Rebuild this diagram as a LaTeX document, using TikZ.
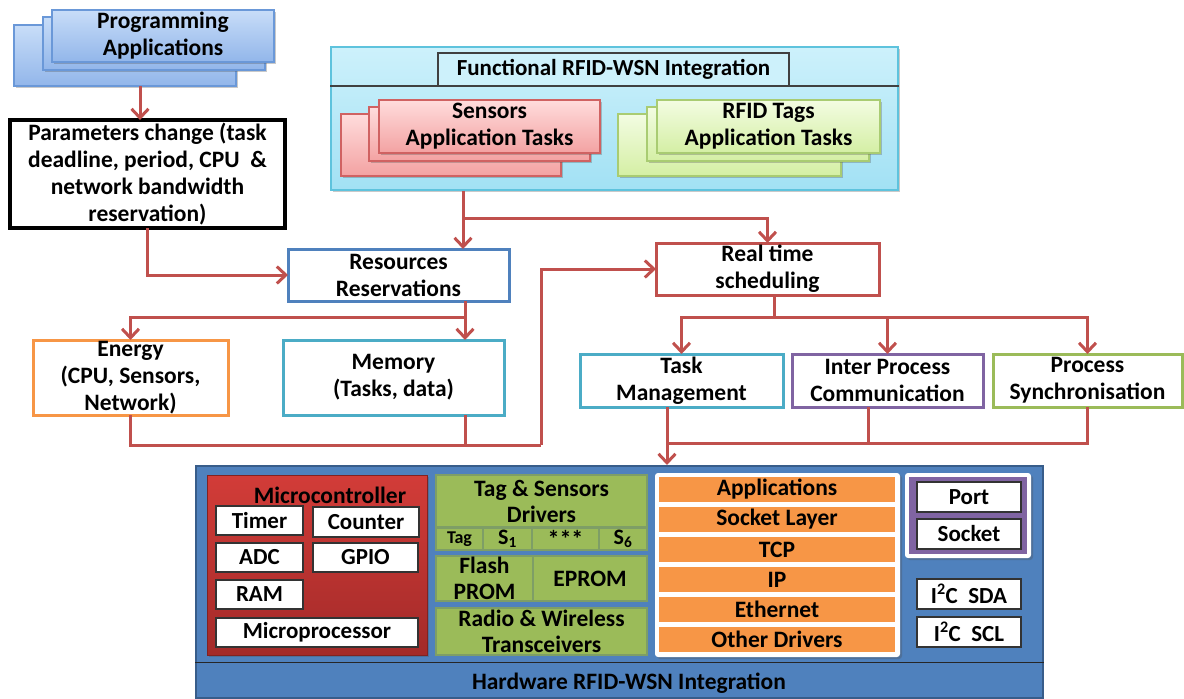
\documentclass[tikz,border=0pt]{standalone}
\usepackage{fontspec}
\setmainfont{Carlito}
\usetikzlibrary{arrows.meta,shadows}

\definecolor{linkred}{HTML}{C0504D}
\definecolor{accblue}{HTML}{4F81BD}
\definecolor{accdblue}{HTML}{385D8A}
\definecolor{accorange}{HTML}{F79646}
\definecolor{accteal}{HTML}{4BACC6}
\definecolor{accpurple}{HTML}{8064A2}
\definecolor{accgreen}{HTML}{9BBB59}
\definecolor{greenedge}{HTML}{7E9E66}
\definecolor{progtop}{HTML}{C8DDF8}
\definecolor{progbot}{HTML}{92B6EA}
\definecolor{progedge}{HTML}{6A98D8}
\definecolor{functop}{HTML}{CDF1FB}
\definecolor{funcbot}{HTML}{A2E1F4}
\definecolor{funcedge}{HTML}{5EC3DD}
\definecolor{sentop}{HTML}{FFDCDC}
\definecolor{senbot}{HTML}{F3A2A2}
\definecolor{senedge}{HTML}{D06262}
\definecolor{rfidtop}{HTML}{F3FCE2}
\definecolor{rfidbot}{HTML}{D4EFA4}
\definecolor{rfidedge}{HTML}{A9CC72}
\definecolor{mcutop}{HTML}{D23C38}
\definecolor{mcubot}{HTML}{A32A29}

\tikzset{
  lbl/.style={font=\bfseries\fontsize{23.5}{27}\selectfont, align=center, inner sep=0pt, outer sep=0pt},
  fsz/.style={font=\bfseries\fontsize{#1}{26}\selectfont},
  frame/.style={lbl, rectangle, draw, line width=3pt, fill=white},
  soft/.style={drop shadow={shadow xshift=2pt, shadow yshift=-2pt, opacity=0.3, fill=black!70}},
  progbox/.style={lbl, rectangle, draw=progedge, line width=1.2pt, top color=progtop, bottom color=progbot, soft},
  senbox/.style={lbl, rectangle, draw=senedge, line width=1.2pt, top color=sentop, bottom color=senbot, soft},
  rfidbox/.style={lbl, rectangle, draw=rfidedge, line width=1.2pt, top color=rfidtop, bottom color=rfidbot, soft},
  cell/.style={lbl, rectangle, draw=black!80, line width=1.3pt, fill=white, fsz=23},
  gcell/.style={lbl, rectangle, draw=greenedge, line width=1.5pt, fill=accgreen, fsz=23.5},
  obar/.style={lbl, rectangle, fill=accorange, minimum width=236, minimum height=25, fsz=23.5},
  conn/.style={draw=linkred, line width=3pt},
  arr/.style={conn, -{Straight Barb[length=9pt, width=17pt]}},
}

\begin{document}
\begin{tikzpicture}[x=1pt, y=-1pt]
\useasboundingbox (0,0) rectangle (1184,699);

% ---------- programming applications (stacked sheets)
\node[progbox, minimum width=222, minimum height=61] (progback) at (125,55.5) {};
\node[progbox, minimum width=222, minimum height=53] (progmid) at (154,43.5) {};
\node[progbox, minimum width=222, minimum height=52] (progfront) at (163,36) {Programming\\Applications};

% ---------- parameters change
\node[frame, draw=black, line width=3.5pt, minimum width=275, minimum height=108] (params) at (147.5,174)
  {Parameters change (task\\deadline, period, CPU~~\&\\network bandwidth\\reservation)};

% ---------- functional integration block
\node[rectangle, draw=funcedge, line width=1.5pt, top color=functop, bottom color=funcbot,
      minimum width=567, minimum height=143, soft] (func) at (614.5,118.5) {};
\node[lbl, fsz=23, draw=black!75, line width=1.3pt, fill=functop, minimum width=351, minimum height=33]
  (functitle) at (613.5,69.5) {Functional RFID-WSN Integration};
\draw[draw=black!75, line width=1.3pt] (functitle.south -| func.west) -- (functitle.south -| func.east);

\node[senbox, minimum width=220, minimum height=62] (senback) at (451,145) {};
\node[senbox, minimum width=221, minimum height=54] (senmid) at (479.5,134) {};
\node[senbox, minimum width=221, minimum height=53] (senfront) at (489.5,126.5) {Sensors\\Application Tasks};

\node[rfidbox, minimum width=223, minimum height=62] (rfidback) at (729.5,145) {};
\node[rfidbox, minimum width=222, minimum height=54] (rfidmid) at (758,134) {};
\node[rfidbox, minimum width=223, minimum height=53] (rfidfront) at (768.5,126.5) {RFID Tags\\Application Tasks};

% ---------- resource and scheduling boxes
\node[frame, draw=accblue, minimum width=221, minimum height=52] (res) at (398.5,275) {Resources\\Reservations};
\node[frame, draw=linkred, minimum width=223, minimum height=52] (rts) at (767.5,269) {Real time\\scheduling};
\node[frame, draw=accorange, minimum width=195, minimum height=75] (energy) at (130.5,377.5) {Energy\\(CPU, Sensors,\\Network)};
\node[frame, draw=accteal, minimum width=221, minimum height=75] (mem) at (393.5,377.5) {Memory\\(Tasks, data)};
\node[frame, draw=accteal, minimum width=203, minimum height=53] (task) at (681.5,380.5) {Task\\Management};
\node[frame, draw=accpurple, minimum width=191, minimum height=53] (ipc) at (887.5,380.5) {Inter Process\\Communication};
\node[frame, draw=accgreen, minimum width=189, minimum height=53] (sync) at (1087.5,380.5) {Process\\Synchronisation};

% ---------- hardware block
\node[rectangle, draw=accdblue, line width=2pt, fill=accblue, minimum width=847, minimum height=232] (hw) at (619.5,582) {};
\draw[black!85, line width=1pt] (hw.west |- 0,662) -- (hw.east |- 0,662);
\node[lbl] (hwtitle) at (629,683) {Hardware RFID-WSN Integration};

% microcontroller
\node[rectangle, draw=mcubot!80!black, line width=1pt, top color=mcutop, bottom color=mcubot,
      minimum width=220, minimum height=180, soft] (mcu) at (317,565) {};
\node[lbl] (mcutitle) at (330,495) {Microcontroller};
\node[cell, minimum width=87,  minimum height=29] (timer)   at (259.5,520.5) {Timer};
\node[cell, minimum width=106, minimum height=30] (counter) at (366,522)     {Counter};
\node[cell, minimum width=87,  minimum height=29] (adc)     at (259.5,557.5) {ADC};
\node[cell, minimum width=105, minimum height=29] (gpio)    at (365.5,557.5) {GPIO};
\node[cell, minimum width=87,  minimum height=29] (ram)     at (259.5,594.5) {RAM};
\node[cell, minimum width=202, minimum height=29] (mproc)   at (317,632.5)   {Microprocessor};

% drivers and memories
\node[gcell, minimum width=211, minimum height=52] (tsd) at (541.5,501) {Tag \& Sensors\\Drivers};
\node[gcell, fsz=18, minimum width=47, minimum height=22] (tagc)  at (459.5,539) {Tag};
\node[gcell, fsz=22, minimum width=49, minimum height=22] (s1c)   at (507.5,539) {S\textsubscript{1}};
\node[gcell, fsz=24, minimum width=67, minimum height=22] (stars) at (565.5,539) {***};
\node[gcell, fsz=22, minimum width=48, minimum height=22] (s6c)   at (623,539)   {S\textsubscript{6}};
\node[gcell, minimum width=97,  minimum height=45] (flash) at (484.5,578.5) {Flash\\PROM};
\node[gcell, minimum width=114, minimum height=45] (eprom) at (590,578.5)   {EPROM};
\node[gcell, minimum width=211, minimum height=47] (radio) at (541.5,631.5) {Radio \& Wireless\\Transceivers};

% network stack
\node[rectangle, rounded corners=3pt, fill=white, minimum width=245, minimum height=184, soft] (netbg) at (777.5,565) {};
\node[obar] (apps)  at (777,489.5) {Applications};
\node[obar] (sockl) at (777,519.5) {Socket Layer};
\node[obar] (tcp)   at (777,549.5) {TCP};
\node[obar] (ip)    at (777,579.5) {IP};
\node[obar] (eth)   at (777,609.5) {Ethernet};
\node[obar] (other) at (777,639.5) {Other Drivers};

% ports and bus lines
\node[rectangle, rounded corners=3pt, fill=white, minimum width=126, minimum height=85, soft] (portbg) at (968,515.5) {};
\node[rectangle, fill=accpurple, minimum width=118, minimum height=77] (portpl) at (968,515.5) {};
\node[cell, minimum width=104, minimum height=30] (port)   at (969,497) {Port};
\node[cell, minimum width=104, minimum height=30] (socket) at (969,534) {Socket};
\node[cell, minimum width=104, minimum height=30] (sda) at (969,594) {I\textsuperscript{2}C~~SDA};
\node[cell, minimum width=104, minimum height=30] (scl) at (969,632) {I\textsuperscript{2}C~~SCL};

% ---------- connectors
\coordinate (j1) at (463,218);
\coordinate (j2) at (465,317);
\coordinate (j3) at (541,445);
\coordinate (j4) at (774,317);
\coordinate (j5) at (667,443);
\coordinate (j6) at (868,443);

\draw[arr] ([xshift=15pt]progback.south) -- ([xshift=-7.5pt]params.north);
\draw[arr] (params.south) |- (res.west);

\draw[arr] (func.south -| j1) -- (res.north -| j1);
\draw[arr] (j1) -| (rts.north);

\draw[conn] (res.south -| j2) -- (j2);
\draw[arr] (j2) -- (mem.north -| j2);
\draw[arr] (j2) -| (energy.north);

\draw[conn] (energy.south) |- (j3);
\draw[conn] (mem.south -| j2) -- (j2 |- j3);
\draw[arr] (j3) |- (rts.west);

\draw[conn] (rts.south -| j4) -- (j4);
\draw[arr] (j4) -| (task.north);
\draw[arr] (j4) -| (sync.north);
\draw[arr] (ipc.north |- j4) -- (ipc.north);

\draw[arr] (task.south -| j5) -- (hw.north -| j5);
\draw[conn] (j5) -| (sync.south);
\draw[conn] (ipc.south -| j6) -- (j6);
\end{tikzpicture}
\end{document}
